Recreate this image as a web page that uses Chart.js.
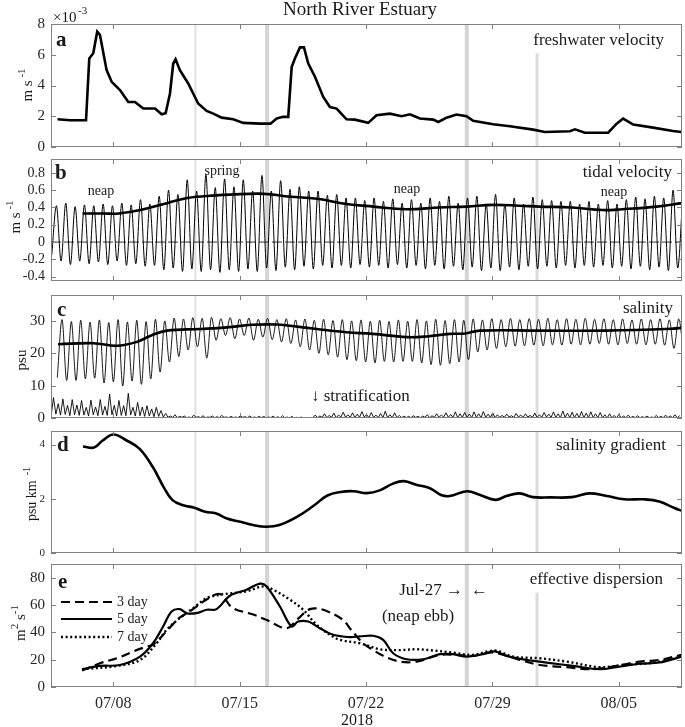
<!DOCTYPE html>
<html>
<head>
<meta charset="utf-8">
<script src="https://cdn.jsdelivr.net/npm/chart.js@4.4.1/dist/chart.umd.min.js"></script>
<style>
  body { margin: 0; background: #fff; }
  #wrap { position: relative; width: 685px; height: 727px; }
  #wrap canvas { position: absolute; left: 0; }
</style>
</head>
<body>
<div id="wrap"></div>
<script>
// x axis: day of July 2018 (08/05 = day 36)
const X_MIN = 4.55, X_MAX = 39.5;
const xTickDays = [8, 15, 22, 29, 36];
const xTickLabels = ["07/08", "07/15", "07/22", "07/29", "08/05"];
const shadeDays = [12.55, 16.52, 27.58, 31.47];

// a: freshwater velocity (x 1e-3 m/s)
const fwDays = [4.91,5.6,6.49,6.67,6.89,7.11,7.26,7.63,7.91,8.37,8.83,9.2,9.66,10.31,10.68,10.9,11.14,11.32,11.45,11.69,12.15,12.7,13.17,13.54,14.0,14.64,15.2,16.12,16.71,17.05,17.41,17.69,17.88,18.06,18.34,18.56,18.8,19.17,19.63,20.0,20.37,20.6,20.92,21.38,22.12,22.58,23.32,23.97,24.43,24.98,25.72,26.0,26.46,27.01,27.57,27.93,29.04,29.97,31.26,31.9,33.29,33.57,34.12,35.41,35.88,36.24,36.8,37.9,39.0,39.47];
const fwVel = [1.8,1.74,1.74,5.76,6.1,7.5,7.3,5.0,4.24,3.7,2.93,2.93,2.5,2.5,2.13,2.2,3.48,5.43,5.7,5.0,4.13,2.83,2.35,2.17,1.91,1.8,1.57,1.52,1.52,1.85,1.96,1.96,5.2,5.76,6.48,6.48,5.43,4.57,3.26,2.6,2.5,2.2,1.8,1.78,1.57,2.07,2.17,2.0,2.13,1.85,1.78,1.63,1.91,2.11,2.0,1.7,1.48,1.35,1.13,0.98,1.02,1.15,0.93,0.93,1.52,1.85,1.46,1.26,1.04,0.98];

// b: tidal velocity, ebb lows and flood highs each tidal cycle
const TIDE_PERIOD = 0.5175;
const tideLowT0 = 4.59, tideHighT0 = 4.85;
const tideLow = [-0.15,
  -0.22,-0.26,-0.22,-0.25,-0.23,-0.26,-0.22,-0.27,-0.25,-0.28,
  -0.27,-0.32,-0.30,-0.34,-0.31,-0.34,-0.32,-0.35,-0.32,-0.34,-0.31,-0.34,
  -0.30,-0.33,-0.29,-0.32,-0.28,-0.31,-0.27,-0.30,-0.27,-0.30,-0.26,-0.29,-0.27,-0.30,-0.26,-0.30,-0.27,-0.31,-0.27,-0.31,-0.28,-0.32,
  -0.29,-0.33,-0.30,-0.33,-0.29,-0.32,-0.28,-0.31,-0.28,-0.30,-0.27,-0.30,-0.27,-0.29,-0.27,-0.30,-0.28,-0.31,-0.28,-0.32,-0.29,-0.33,-0.30];
const tideHigh = [
  0.42,0.45,0.41,0.43,0.42,0.44,0.42,0.45,0.43,0.49,0.44,0.53,
  0.60,0.55,0.72,0.59,0.78,0.63,0.73,0.64,0.72,0.59,0.77,
  0.59,0.71,0.61,0.64,0.59,0.59,0.54,0.55,0.51,0.51,0.48,0.51,0.47,0.50,0.45,0.49,0.45,0.51,0.47,0.53,0.45,0.51,
  0.53,0.44,0.55,0.44,0.51,0.44,0.52,0.49,0.48,0.47,0.47,0.44,0.47,0.44,0.48,0.44,0.49,0.52,0.50,0.53,0.51,0.60,0.45];
const tideMeanDays = [6.3,7.5,8.3,9.5,10.8,12.1,13.7,14.6,16.0,16.8,17.5,19.3,20.9,22.4,24.2,26.1,27.6,29.0,30.5,31.6,33.4,35.1,36.2,38.1,39.5];
const tideMean = [0.33,0.33,0.33,0.37,0.44,0.51,0.54,0.55,0.56,0.55,0.53,0.50,0.44,0.41,0.38,0.40,0.41,0.43,0.42,0.41,0.40,0.37,0.38,0.41,0.45];

// c: salinity (psu)
const salLowT0 = 4.90, salHighT0 = 5.16;
const salLow = [12.5,
  11.6,11.6,12.1,12.3,10.8,11.2,9.9,11.4,10.4,12.1,
  14.2,17.3,19.0,21.0,22.0,18.5,24.0,25.5,24.5,25.5,24.0,25.0,
  24.2,23.5,23.0,22.0,21.0,20.0,19.5,18.8,18.0,17.7,17.3,17.0,17.5,17.3,17.5,17.5,17.0,16.5,16.3,16.8,17.3,18.0,
  20.4,21.0,21.5,22.0,22.2,22.3,22.5,22.3,22.6,22.5,22.8,22.6,22.8,23.0,22.8,22.6,23.0,22.8,22.6,22.8,22.5,21.5,21.0];
const salHigh = [
  30.4,29.8,30.2,29.6,30.3,29.5,30.4,29.7,30.2,29.8,30.5,30.0,
  30.9,30.6,31.0,30.8,31.1,30.7,31.0,30.6,30.9,30.5,30.8,
  30.4,30.7,30.3,30.6,30.2,30.5,30.1,30.4,30.0,30.3,29.9,30.2,29.8,30.3,29.9,30.4,30.0,30.5,30.1,30.4,30.2,30.6,
  30.3,30.7,30.4,30.8,30.4,30.7,30.5,30.8,30.4,30.7,30.5,30.8,30.5,30.7,30.4,30.6,30.3,30.6,30.4,30.7,30.3,30.6];
const salMeanDays = [4.94,6.9,8.2,9.3,10.1,10.97,12.8,14.3,15.7,17.05,17.78,19.27,20.93,22.37,24.25,25.36,26.64,27.47,28.3,31.6,35.3,39.0,39.5];
const salMean = [22.8,23.1,22.3,23.5,25.5,27.0,27.5,28.0,28.8,28.9,28.5,27.5,26.5,26.0,25.0,25.2,26.0,26.1,27.0,27.0,27.0,27.6,27.9];

// stratification (top-bottom salinity), sampled twice per tidal cycle
const STRAT_STEP = 0.2588;
const stratLowT0 = 4.56, stratPeakT0 = 4.69;
const stratPeak = [
  6.3,4.4,5.9,3.9,5.7,4.0,5.4,3.3,5.5,3.4,5.7,3.6,7.4,3.9,5.4,3.8,7.6,3.3,4.8,3.4,3.8,2.8,3.3,2.3,
  1.4,0.6,1.0,0.5,0.6,0.3,0.9,0.4,0.7,0.3,0.6,0.4,0.8,0.3,0.5,0.3,0.7,0.4,0.6,0.3,0.5,
  0.5,0.3,0.6,0.4,0.7,0.3,0.5,0.2,0.3,0.1,0.1,
  0.9,0.6,1.3,0.8,1.5,0.9,1.8,1.0,1.6,1.2,2.0,1.1,1.7,0.9,1.4,2.1,1.0,1.6,0.8,0.6,0.5,0.7,0.5,0.6,1.0,0.7,1.3,0.9,1.6,1.1,1.9,1.3,1.7,1.2,1.9,1.3,2.0,1.2,1.6,1.0,
  0.8,1.2,0.7,1.4,0.9,1.3,0.8,1.5,1.0,1.7,1.2,1.9,1.3,2.2,1.5,1.8,1.4,2.0,1.5,1.9,1.3,1.7,1.0,1.3,0.8,1.1,0.6,0.9,0.5,0.7,0.4,0.6,0.3,0.8,0.5,0.9,0.6,1.0,0.7];
const stratLow = [
  0.8,1.2,0.9,1.1,0.7,1.0,0.8,0.9,0.6,1.0,0.7,0.9,0.8,1.0,0.6,0.8,0.7,0.9,0.6,0.7,0.5,0.6,0.4,0.5,
  0.3,0.2,0.2,0.1,0.2,0.1,0.1,0.2,0.1,0.1,
  0.2,0.1,0.1,0.2,0.1,0.1,0.1,0.2,0.1,0.1,
  0.1,0.1,0.0,0.1,0.0,0.0,0.0,0.0,0.0,0.0,
  0.0,0.0,0.1,0.1,0.2,0.1,0.2,0.1,0.3,0.2,
  0.2,0.1,0.2,0.3,0.1,0.2,0.1,0.1,0.1,0.1,
  0.1,0.1,0.1,0.1,0.2,0.1,0.2,0.1,0.2,0.2,
  0.3,0.2,0.2,0.1,0.2,0.2,0.1,0.2,0.1,0.2,
  0.2,0.1,0.2,0.2,0.3,0.2,0.3,0.2,0.3,0.2,
  0.2,0.2,0.3,0.2,0.2,0.1,0.2,0.1,0.1,0.1,
  0.1,0.1,0.1,0.1,0.1,0.0,0.1,0.0,0.1,0.1,
  0.1,0.1,0.1,0.1,0.1,0.1,0.1,0.1,0.1,0.1,0.1];

// d: salinity gradient (psu/km)
const gradDays = [6.32,6.93,7.41,8.01,8.74,9.46,10.19,10.79,11.28,11.88,12.49,13.09,13.7,14.3,15.03,15.75,16.48,17.2,18.17,19.13,19.86,20.58,21.31,22.04,22.76,23.49,24.09,24.82,25.54,26.15,26.63,27.59,28.32,29.17,29.77,30.5,31.24,32.2,33.4,34.37,35.34,36.31,37.39,38.24,39.08,39.5];
const grad = [3.93,3.89,4.15,4.37,4.15,3.84,3.17,2.43,1.95,1.76,1.67,1.52,1.46,1.27,1.15,1.03,0.97,1.03,1.33,1.76,2.12,2.25,2.28,2.21,2.31,2.56,2.65,2.51,2.39,2.14,2.1,2.28,2.14,1.96,2.1,2.2,2.06,2.05,2.06,2.2,2.1,1.98,1.98,1.9,1.66,1.55];

// e: effective dispersion (m2/s)
const dispLabels = ["3 day", "5 day", "7 day"];
const d3Days = [6.27,7.26,8.2,9.1,9.85,10.2,10.95,11.6,12.2,13.17,13.9,14.6,15.75,16.5,17.6,18.24,18.89,19.63,20.74,21.1,21.84,22.4,22.95,23.87,24.8,26.09,27.0,27.93,29.04,30.51,31.62,33.1,34.4,35.68,37.16,38.26,39.47];
const d3 = [12,17.4,21,26,29.6,31,40.8,50,55,64,68,58,53,49,43,50,57,56.5,49,43,32,27,22.8,18.6,18.6,23.5,23.5,22.8,25.2,19.8,16.1,14.5,13,15,18.6,19.8,23.5];
const d5Days = [6.27,7.26,8.37,9.48,10.2,10.76,11.23,11.69,12.06,12.6,13.17,13.72,14.46,15.38,16.12,16.49,17.23,17.87,18.24,18.8,19.44,20.18,21.1,21.66,22.4,22.95,23.5,24.24,25.16,26.09,26.82,27.56,28.48,29.13,29.77,30.88,31.99,33.46,34.94,35.87,37.16,38.26,39.47];
const d5 = [13,15.4,16.1,22.2,32,44.3,55.3,57,54,54,56.5,57,66.8,71.2,75.6,73.6,58.9,44.3,47.9,47.9,43,38.2,36.5,37,37.5,34.5,24.7,20.3,20.3,24,24,22.2,24,26,22.8,19.8,17.9,15.4,13,14.5,17,17.9,22.2];
const d7Days = [6.27,8.2,9.48,10.4,10.95,11.79,12.43,13.17,13.9,14.6,15.38,16.3,16.85,17.78,18.52,19.26,20.0,20.55,21.66,22.77,23.87,24.8,25.72,26.82,27.93,29.13,30.14,31.62,33.1,34.94,36.24,38.0,39.47];
const d7 = [13,15.4,19.8,32,41.8,51.6,57.7,65,67.5,68.7,70,73.6,71.2,63.9,56.5,45.5,38.2,34.5,32,27.6,27,27.6,26.7,25.2,23.5,26.7,22.2,21,18.6,14.5,16.1,17.9,22.2];

const SERIF = "'Liberation Serif', 'Times New Roman', serif";
Chart.defaults.font.family = SERIF;
Chart.defaults.color = "#262626";

function pts(days, vals) {
  return days.map((d, i) => ({ x: d, y: vals[i] }));
}
// merge two alternating sampled series (lows / highs) into one time ordered list
function alternate(t0a, a, t0b, b, step) {
  const out = [];
  a.forEach((v, i) => out.push({ x: t0a + i * step, y: v }));
  b.forEach((v, i) => out.push({ x: t0b + i * step, y: v }));
  return out.sort((p, q) => p.x - q.x);
}

const decoById = {};
const shadeWidth = [2, 4, 4, 3];
const shadeColor = ["#e0e0e0", "#d4d4d4", "#d4d4d4", "#dcdcdc"];

function drawRotLabel(ctx, lab, offY) {
  ctx.save();
  ctx.translate(lab.x, lab.y - offY);
  ctx.rotate(-Math.PI / 2);
  ctx.textAlign = "left";
  ctx.textBaseline = "alphabetic";
  ctx.fillStyle = "#1a1a1a";
  const big = lab.size + "px " + SERIF;
  const small = Math.round(lab.size * 0.7) + "px " + SERIF;
  let total = 0;
  lab.parts.forEach(p => { ctx.font = p[1] ? small : big; total += ctx.measureText(p[0]).width; });
  let cx = -total / 2;
  lab.parts.forEach(p => {
    ctx.font = p[1] ? small : big;
    ctx.fillText(p[0], cx, p[1] ? -lab.size * 0.45 : 0);
    cx += ctx.measureText(p[0]).width;
  });
  ctx.restore();
}

const panelDeco = {
  id: "panelDeco",
  beforeDatasetsDraw(chart) {
    const p = decoById[chart.canvas.id];
    const { ctx, chartArea: a, scales: { x, y } } = chart;
    ctx.save();
    shadeDays.forEach((d, i) => {
      const px = x.getPixelForValue(d);
      let top = a.top;
      if (p.shadeCut && p.shadeCut[i] != null) top = y.getPixelForValue(p.shadeCut[i]);
      ctx.fillStyle = shadeColor[i];
      ctx.fillRect(px - shadeWidth[i] / 2, top, shadeWidth[i], a.bottom - top);
    });
    ctx.restore();
  },
  afterDraw(chart) {
    const p = decoById[chart.canvas.id];
    const { ctx, chartArea: a, scales: { x, y } } = chart;
    const off = p.top;
    ctx.save();
    // box + inward ticks
    ctx.strokeStyle = "#808080";
    ctx.lineWidth = 1;
    ctx.strokeRect(a.left + 0.5, a.top + 0.5, a.right - a.left - 1, a.bottom - a.top - 1);
    ctx.beginPath();
    x.ticks.forEach(t => {
      const px = Math.round(x.getPixelForValue(t.value)) + 0.5;
      ctx.moveTo(px, a.top); ctx.lineTo(px, a.top + 5);
      ctx.moveTo(px, a.bottom); ctx.lineTo(px, a.bottom - 5);
    });
    y.ticks.forEach(t => {
      const py = Math.round(y.getPixelForValue(t.value)) + 0.5;
      ctx.moveTo(a.left, py); ctx.lineTo(a.left + 5, py);
      ctx.moveTo(a.right, py); ctx.lineTo(a.right - 5, py);
    });
    ctx.stroke();

    // texts
    ctx.fillStyle = "#1a1a1a";
    ctx.textBaseline = "middle";
    (p.texts || []).forEach(t => {
      ctx.font = (t.bold ? "bold " : "") + t.size + "px " + SERIF;
      ctx.textAlign = t.align || "left";
      ctx.fillText(t.s, t.x, t.y - off);
    });
    if (p.ylab) drawRotLabel(ctx, p.ylab, off);

    // legend (panel e)
    if (p.legend) {
      chart.data.datasets.forEach((ds, i) => {
        const ly = p.legend.y[i] - off;
        ctx.strokeStyle = "#000";
        ctx.lineWidth = ds.borderWidth;
        ctx.setLineDash(ds.borderDash || []);
        ctx.beginPath();
        ctx.moveTo(61, ly); ctx.lineTo(112, ly);
        ctx.stroke();
        ctx.setLineDash([]);
        ctx.font = "14px " + SERIF;
        ctx.textAlign = "left";
        ctx.fillText(ds.label, 117, ly);
      });
    }
    ctx.restore();
  }
};

function makePanel(p) {
  const c = document.createElement("canvas");
  c.id = p.id;
  c.width = 685;
  c.height = p.height;
  c.style.top = p.top + "px";
  document.getElementById("wrap").appendChild(c);
  decoById[p.id] = p;
  return new Chart(c, {
    type: "line",
    data: { datasets: p.datasets },
    options: {
      responsive: false,
      animation: false,
      devicePixelRatio: 1,
      parsing: false,
      layout: { padding: { top: p.padTop, bottom: p.padBottom, left: 0, right: 3 } },
      plugins: { legend: { display: false }, tooltip: { enabled: false } },
      elements: { point: { radius: 0 } },
      scales: {
        x: {
          type: "linear", min: X_MIN, max: X_MAX,
          grid: { display: false, drawTicks: false },
          border: { display: false },
          afterBuildTicks: s => { s.ticks = xTickDays.map(v => ({ value: v })); },
          ticks: {
            display: !!p.showX, autoSkip: false, maxRotation: 0, padding: 7,
            font: { size: 16 }, color: "#262626",
            callback: v => xTickLabels[xTickDays.indexOf(v)]
          },
          afterFit: s => { s.height = p.xHeight || 0; s.paddingLeft = 0; s.paddingRight = 0; }
        },
        y: {
          type: "linear", min: p.yMin, max: p.yMax,
          grid: { display: false, drawTicks: false },
          border: { display: false },
          afterBuildTicks: s => { s.ticks = p.yTicks.map(v => ({ value: v })); },
          ticks: {
            autoSkip: false, padding: 6, font: { size: p.yFont }, color: "#262626",
            callback: p.yFmt || (v => String(v))
          },
          afterFit: s => { s.width = 51; s.paddingTop = 0; s.paddingBottom = 0; }
        }
      }
    },
    plugins: [panelDeco]
  });
}

// a: freshwater velocity
makePanel({
  id: "pa", top: 0, height: 157, padTop: 24, padBottom: 10,
  yMin: 0, yMax: 8, yTicks: [0, 2, 4, 6, 8], yFont: 15,
  shadeCut: { 3: 6.1 },
  datasets: [{ data: pts(fwDays, fwVel), borderColor: "#000", borderWidth: 2.6, tension: 0 }],
  texts: [
    { s: "North River Estuary", x: 360, y: 10, size: 19, align: "center" },
    { s: "\u00d710", x: 53, y: 18, size: 15 },
    { s: "-3", x: 78, y: 11, size: 11 },
    { s: "a", x: 56, y: 41, size: 21, bold: true },
    { s: "freshwater velocity", x: 664, y: 41, size: 17, align: "right" }
  ],
  ylab: { x: 32, y: 85, size: 15, parts: [["m s", 0], [" -1", 1]] }
});

// b: tidal velocity
makePanel({
  id: "pb", top: 157, height: 133, padTop: 2, padBottom: 9,
  yMin: -0.45, yMax: 0.96, yTicks: [-0.4, -0.2, 0, 0.2, 0.4, 0.6, 0.8], yFont: 14,
  yFmt: v => (Math.abs(v) < 1e-9 ? "0" : v.toFixed(1)),
  datasets: [
    { data: pts(tideMeanDays, tideMean), borderColor: "#000", borderWidth: 2.6, tension: 0.4, order: 0 },
    { data: alternate(tideLowT0, tideLow, tideHighT0, tideHigh, TIDE_PERIOD), borderColor: "#000",
      borderWidth: 1, cubicInterpolationMode: "monotone", order: 1 },
    { data: [{ x: X_MIN, y: 0 }, { x: X_MAX, y: 0 }], borderColor: "#000", borderWidth: 0.8,
      borderDash: [10, 3], order: 2 }
  ],
  texts: [
    { s: "b", x: 55, y: 174, size: 21, bold: true },
    { s: "tidal velocity", x: 672, y: 173, size: 17, align: "right" },
    { s: "neap", x: 101, y: 191, size: 14, align: "center" },
    { s: "spring", x: 222, y: 171, size: 14, align: "center" },
    { s: "neap", x: 407, y: 189, size: 14, align: "center" },
    { s: "neap", x: 614, y: 192, size: 14, align: "center" }
  ],
  ylab: { x: 20, y: 217, size: 15, parts: [["m s", 0], [" -1", 1]] }
});

// c: salinity + stratification
makePanel({
  id: "pc", top: 290, height: 137, padTop: 5, padBottom: 9,
  yMin: 0, yMax: 38, yTicks: [0, 10, 20, 30], yFont: 15,
  datasets: [
    { data: pts(salMeanDays, salMean), borderColor: "#000", borderWidth: 2.6, tension: 0.4, order: 0 },
    { data: alternate(salLowT0, salLow, salHighT0, salHigh, TIDE_PERIOD), borderColor: "#000",
      borderWidth: 0.9, cubicInterpolationMode: "monotone", order: 1 },
    { data: alternate(stratLowT0, stratLow, stratPeakT0, stratPeak, STRAT_STEP), borderColor: "#000",
      borderWidth: 0.9, tension: 0, order: 2 }
  ],
  texts: [
    { s: "c", x: 57, y: 311, size: 21, bold: true },
    { s: "salinity", x: 673, y: 309, size: 17, align: "right" },
    { s: "\u2193 stratification", x: 311, y: 397, size: 17 }
  ],
  ylab: { x: 26, y: 360, size: 15, parts: [["psu", 0]] }
});

// d: salinity gradient
makePanel({
  id: "pd", top: 427, height: 133, padTop: 4, padBottom: 7,
  yMin: 0, yMax: 4.5, yTicks: [0, 2, 4], yFont: 11,
  datasets: [{ data: pts(gradDays, grad), borderColor: "#000", borderWidth: 2.6, tension: 0.4 }],
  texts: [
    { s: "d", x: 57, y: 446, size: 21, bold: true },
    { s: "salinity gradient", x: 666, y: 446, size: 17, align: "right" }
  ],
  ylab: { x: 36, y: 494, size: 14, parts: [["psu km", 0], ["  -1", 1]] }
});

// e: effective dispersion
makePanel({
  id: "pe", top: 560, height: 167, padTop: 4, padBottom: 0, xHeight: 40, showX: true,
  yMin: 0, yMax: 90, yTicks: [0, 20, 40, 60, 80], yFont: 15,
  shadeCut: { 3: 69 },
  datasets: [
    { label: dispLabels[0], data: pts(d3Days, d3), borderColor: "#000", borderWidth: 2.2, borderDash: [9, 5], tension: 0.35 },
    { label: dispLabels[1], data: pts(d5Days, d5), borderColor: "#000", borderWidth: 2.2, tension: 0.35 },
    { label: dispLabels[2], data: pts(d7Days, d7), borderColor: "#000", borderWidth: 2.4, borderDash: [2, 2.6], tension: 0.35 }
  ],
  legend: { y: [602, 619, 637] },
  texts: [
    { s: "e", x: 58, y: 583, size: 21, bold: true },
    { s: "effective dispersion", x: 663, y: 580, size: 17, align: "right" },
    { s: "Jul-27 \u2192", x: 463, y: 591, size: 17, align: "right" },
    { s: "\u2190", x: 471, y: 591, size: 17 },
    { s: "(neap ebb)", x: 418, y: 617, size: 17, align: "center" },
    { s: "2018", x: 357, y: 721, size: 16, align: "center" }
  ],
  ylab: { x: 25, y: 623, size: 15, parts: [["m", 0], ["2", 1], [" s", 0], ["-1", 1]] }
});
</script>
</body>
</html>
